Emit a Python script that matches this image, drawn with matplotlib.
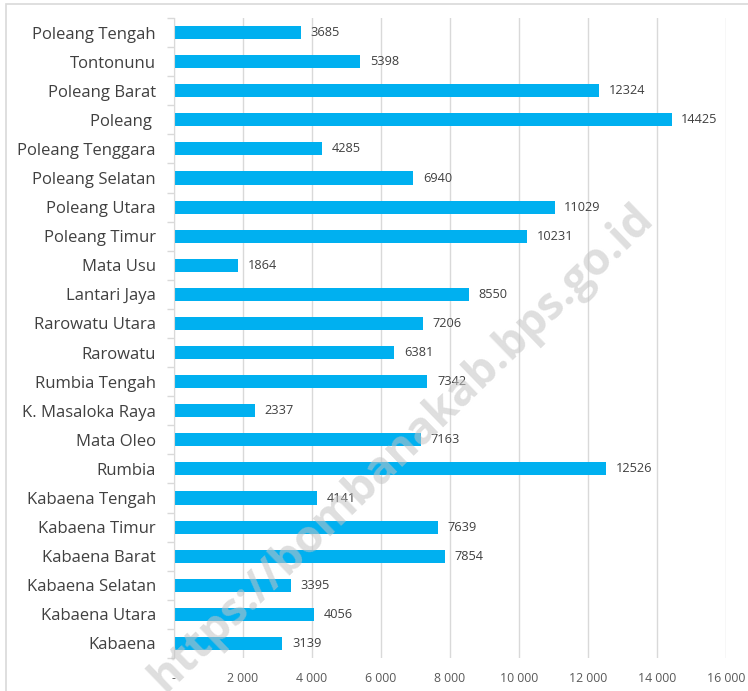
import numpy as np
import matplotlib
matplotlib.use('Agg')
import matplotlib.pyplot as plt
from matplotlib.patches import Rectangle
from matplotlib.ticker import FuncFormatter, MultipleLocator

plt.rcParams['font.family'] = ['Open Sans', 'DejaVu Sans']

# data, top to bottom as in the reference
kecamatan = ['Poleang Tengah', 'Tontonunu', 'Poleang Barat', 'Poleang ', 'Poleang Tenggara',
             'Poleang Selatan', 'Poleang Utara', 'Poleang Timur', 'Mata Usu', 'Lantari Jaya',
             'Rarowatu Utara', 'Rarowatu', 'Rumbia Tengah', 'K. Masaloka Raya', 'Mata Oleo',
             'Rumbia', 'Kabaena Tengah', 'Kabaena Timur', 'Kabaena Barat', 'Kabaena Selatan',
             'Kabaena Utara', 'Kabaena']
nilai = [3685, 5398, 12324, 14425, 4285, 6940, 11029, 10231, 1864, 8550, 7206, 6381,
         7342, 2337, 7163, 12526, 4141, 7639, 7854, 3395, 4056, 3139]
x_ticks = [0, 2000, 4000, 6000, 8000, 10000, 12000, 14000, 16000]

bar_color = '#00B0F0'
grid_color = '#D9D9D9'
text_color = '#404040'

fig = plt.figure(figsize=(7.48, 6.91), dpi=100)
# outer chart frame (cropped on right and bottom in the reference)
fig.patches.append(Rectangle((6 / 748, -0.05), 1.2, 1 - 4 / 691 + 0.05, transform=fig.transFigure,
                             fill=False, edgecolor='#D9D9D9', linewidth=1.2))

ax = fig.add_axes([174 / 748, 1 - 658 / 691, (726 - 174) / 748, 640 / 691])

n = len(kecamatan)
pos = np.arange(n)[::-1]
ax.barh(pos, nilai, height=0.45, color=bar_color, zorder=3)

for p, v in zip(pos, nilai):
    ax.text(v + 280, p, str(v), va='center', ha='left', fontsize=9.2, color=text_color, zorder=4)

ax.set_xlim(0, 16000)
ax.set_ylim(-0.5, n - 0.5)
ax.set_xticks(x_ticks)
ax.xaxis.set_major_formatter(FuncFormatter(lambda x, _: '-' if x == 0 else f'{int(x):,}'.replace(',', ' ')))
ax.tick_params(axis='x', length=0, pad=10, labelsize=8.8, labelcolor='#595959')

ax.set_yticks(pos)
ax.set_yticklabels(kecamatan)
ax.tick_params(axis='y', which='major', length=0, pad=13, labelsize=12, labelcolor=text_color)
ax.yaxis.set_minor_locator(MultipleLocator(1, offset=0.5))
ax.tick_params(axis='y', which='minor', length=5, color=grid_color, width=1)

ax.grid(axis='x', color=grid_color, linewidth=1, zorder=0)
for s in ['top', 'right', 'bottom']:
    ax.spines[s].set_visible(False)
ax.spines['left'].set_color(grid_color)
ax.spines['left'].set_zorder(5)

# watermark
fig.text(402 / 748, 1 - 448 / 691, 'https://bombanakab.bps.go.id', rotation=44,
         ha='center', va='center', fontsize=32.5, fontweight='bold', color='#C4C4C4',
         alpha=0.55, zorder=10)

fig.savefig('out.png', dpi=100)
